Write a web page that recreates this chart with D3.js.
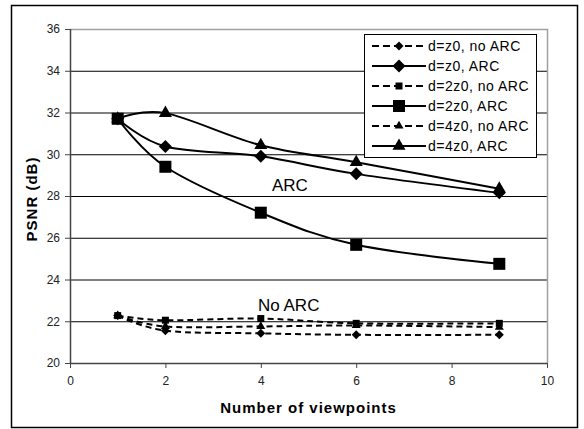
<!DOCTYPE html>
<head>
<meta charset="utf-8">
<script src="https://d3js.org/d3.v7.min.js"></script>
<style>
  body { margin: 0; background: #fff; font-family: "Liberation Sans", Arial, sans-serif; }
  .tick text { font-size: 12px; fill: #222; font-family: "Liberation Sans", Arial, sans-serif; }
  .axis path { display: none; }
  .axis line { stroke: #444; }
  .grid line { stroke: #000; stroke-width: 1px; }
  .grid path, .grid text { display: none; }
  .title { font-size: 15px; font-weight: bold; letter-spacing: 1px; fill: #000; }
  .note { font-size: 17px; fill: #000; }
  .legend text { font-size: 14px; letter-spacing: 0.5px; fill: #000; }
</style>
</head>
<body>
<script>
// viewpoints on the x axis
var viewpoints = [1, 2, 4, 6, 9];

var seriesNames = ["d=z0, no ARC", "d=z0, ARC", "d=2z0, no ARC", "d=2z0, ARC", "d=4z0, no ARC", "d=4z0, ARC"];
var z0NoArc  = [22.27, 21.55, 21.42, 21.35, 21.35];
var z0Arc    = [31.7, 30.37, 29.9, 29.06, 28.15];
var z2NoArc  = [22.27, 22.05, 22.13, 21.9, 21.9];
var z2Arc    = [31.7, 29.4, 27.2, 25.66, 24.75];
var z4NoArc  = [22.27, 21.75, 21.75, 21.8, 21.72];
var z4Arc    = [31.7, 31.97, 30.43, 29.62, 28.35];

var xTicks = [0, 2, 4, 6, 8, 10];
var yTicks = [20, 22, 24, 26, 28, 30, 32, 34, 36];

var W = 584, H = 429;
var pl = 70, pr = 547, pt = 29, pb = 363;

var svg = d3.select("body").append("svg")
    .attr("width", W)
    .attr("height", H);

// outer frame
svg.append("rect")
    .attr("x", 11.5).attr("y", 5.5)
    .attr("width", 566).attr("height", 422)
    .attr("fill", "none").attr("stroke", "#000").attr("stroke-width", 1.5);

var x = d3.scaleLinear().domain([0, 10]).range([pl, pr]);
var y = d3.scaleLinear().domain([20, 36]).range([pb, pt]);

// gridlines
svg.append("g")
    .attr("class", "grid")
    .attr("transform", "translate(" + pl + ",0)")
    .call(d3.axisLeft(y).tickValues(yTicks).tickSize(-(pr - pl)));

// plot border (top/right gray)
svg.append("path")
    .attr("d", "M" + pl + "," + (pt + 0.5) + "H" + (pr + 0.5) + "V" + pb)
    .attr("fill", "none").attr("stroke", "#a0a0a0").attr("stroke-width", 1.5);

svg.append("g")
    .attr("class", "axis")
    .attr("transform", "translate(" + pl + ",0)")
    .call(d3.axisLeft(y).tickValues(yTicks).tickSize(5).tickPadding(5));

svg.append("g")
    .attr("class", "axis")
    .attr("transform", "translate(0," + pb + ")")
    .call(d3.axisBottom(x).tickValues(xTicks).tickSize(5).tickPadding(8));

svg.append("line")
    .attr("x1", pl + 0.5).attr("x2", pl + 0.5).attr("y1", pt).attr("y2", pb)
    .attr("stroke", "#444").attr("stroke-width", 1.5);
svg.append("line")
    .attr("x1", pl).attr("x2", pr).attr("y1", pb + 0.5).attr("y2", pb + 0.5)
    .attr("stroke", "#444").attr("stroke-width", 1.5);

// titles
svg.append("text").attr("class", "title")
    .attr("x", (pl + pr) / 2).attr("y", 413)
    .attr("text-anchor", "middle")
    .text("Number of viewpoints");
svg.append("text").attr("class", "title")
    .attr("transform", "translate(37," + ((pt + pb) / 2 + 3) + ") rotate(-90)")
    .attr("text-anchor", "middle")
    .text("PSNR (dB)");

svg.append("text").attr("class", "note").attr("x", 272).attr("y", 191).text("ARC");
svg.append("text").attr("class", "note").attr("x", 258).attr("y", 311).text("No ARC");

function marker(sel, shape, s) {
  if (shape === "diamond") {
    sel.attr("d", d3.symbol().type(d3.symbolSquare).size(s * s / 2)())
       .attr("transform", function(d) { return d.t + " rotate(45)"; });
  } else if (shape === "square") {
    sel.attr("d", d3.symbol().type(d3.symbolSquare).size(s * s)())
       .attr("transform", function(d) { return d.t; });
  } else {
    sel.attr("d", d3.symbol().type(d3.symbolTriangle).size(s * s * 0.433)())
       .attr("transform", function(d) { return d.t; });
  }
}

var series = [
  {name: seriesNames[0], values: z0NoArc, shape: "diamond", dash: true, size: 9},
  {name: seriesNames[1], values: z0Arc, shape: "diamond", dash: false, size: 13},
  {name: seriesNames[2], values: z2NoArc, shape: "square", dash: true, size: 7},
  {name: seriesNames[3], values: z2Arc, shape: "square", dash: false, size: 12},
  {name: seriesNames[4], values: z4NoArc, shape: "triangle", dash: true, size: 9},
  {name: seriesNames[5], values: z4Arc, shape: "triangle", dash: false, size: 13}
];

var line = d3.line()
    .x(function(d, i) { return x(viewpoints[i]); })
    .y(function(d) { return y(d); })
    .curve(d3.curveCardinal.tension(0));

series.forEach(function(s) {
  svg.append("path")
      .attr("d", line(s.values))
      .attr("fill", "none")
      .attr("stroke", "#000")
      .attr("stroke-width", 2)
      .attr("stroke-dasharray", s.dash ? "6,4" : null);
});
series.forEach(function(s) {
  svg.append("g").selectAll("path")
      .data(s.values.map(function(v, i) { return {t: "translate(" + x(viewpoints[i]) + "," + y(v) + ")"}; }))
      .enter().append("path")
      .attr("fill", "#000")
      .call(marker, s.shape, s.size);
});

// legend
var lg = svg.append("g").attr("class", "legend");
lg.append("rect")
    .attr("x", 364.5).attr("y", 34.5).attr("width", 172).attr("height", 123)
    .attr("fill", "#fff").attr("stroke", "#000").attr("stroke-width", 1);
series.forEach(function(s, i) {
  var cy = 46 + i * 20;
  lg.append("line")
      .attr("x1", 372).attr("x2", 426).attr("y1", cy).attr("y2", cy)
      .attr("stroke", "#000").attr("stroke-width", 2)
      .attr("stroke-dasharray", s.dash ? "7,4" : null);
  lg.append("path").datum({t: "translate(399," + cy + ")"})
      .attr("fill", "#000")
      .call(marker, s.shape, s.size);
  lg.append("text").attr("x", 428).attr("y", cy + 5).text(s.name);
});
</script>
</body>
